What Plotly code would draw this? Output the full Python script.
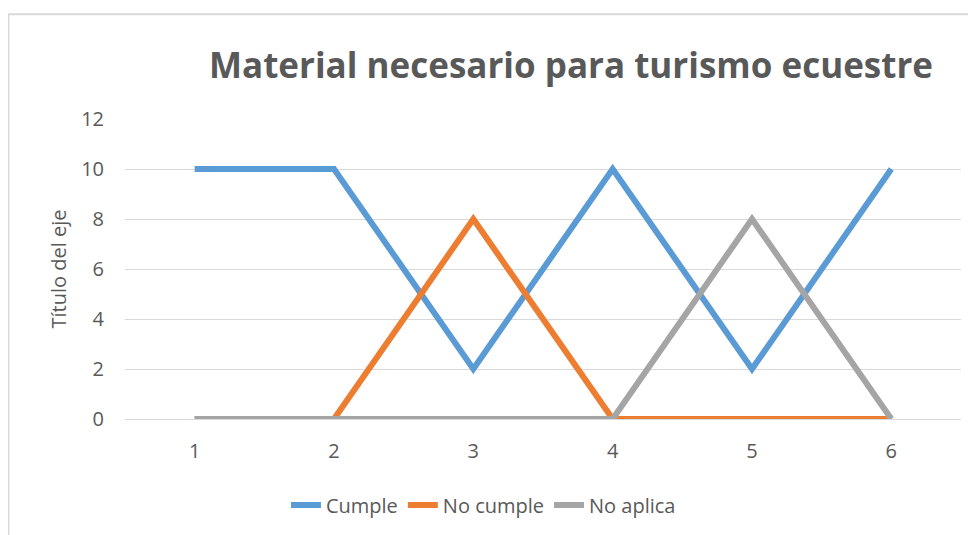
import plotly.graph_objects as go

categories = [1, 2, 3, 4, 5, 6]
cumple = [10, 10, 2, 10, 2, 10]
no_cumple = [0, 0, 8, 0, 0, 0]
no_aplica = [0, 0, 0, 0, 8, 0]
series_names = ["Cumple", "No cumple", "No aplica"]
colors = ["#5B9BD5", "#ED7D31", "#A5A5A5"]
y_ticks = [0, 2, 4, 6, 8, 10, 12]

W, H = 968, 527
L, R, T, B = 117.4, 15.4, 111, 115
PW, PH = W - L - R, H - T - B

fig = go.Figure()
for name, vals, col in zip(series_names, [cumple, no_cumple, no_aplica], colors):
    fig.add_trace(go.Scatter(
        x=[str(c) for c in categories], y=vals, mode="lines", name=name,
        line=dict(color=col, width=6)))

fig.update_layout(
    width=W, height=H,
    margin=dict(l=L, r=R, t=T, b=B),
    paper_bgcolor="white", plot_bgcolor="white",
    font=dict(family="Open Sans", color="#595959", size=20),
    title=dict(text="<b>Material necesario para turismo ecuestre</b>",
               xref="paper", x=(563 - L) / PW, xanchor="center",
               yref="container", y=1 - 58 / H, yanchor="middle",
               font=dict(family="Open Sans", size=35, color="#595959")),
    xaxis=dict(type="category", range=[-0.5, 5.5], showgrid=False, showline=False,
               zeroline=False, ticks="", tickfont=dict(size=20, color="#595959"),
               ticklabelstandoff=18),
    yaxis=dict(range=[0, 12], tickvals=y_ticks, showgrid=True, gridcolor="#D9D9D9",
               gridwidth=1.3, zeroline=True, zerolinecolor="#D9D9D9", zerolinewidth=1.3,
               showline=False, ticks="", tickfont=dict(size=20, color="#595959"),
               ticklabelstandoff=20),
    legend=dict(orientation="h", x=(475.5 - L) / PW, xanchor="center",
                y=(PH + T - 497) / PH, yanchor="middle",
                font=dict(size=20, color="#595959"), itemwidth=30, traceorder="normal"),
    annotations=[dict(text="Título del eje", xref="paper", yref="paper",
                      x=(50 - L) / PW, y=0.5, xanchor="center", yanchor="middle",
                      textangle=-90, showarrow=False,
                      font=dict(size=20, color="#595959"))],
    shapes=[dict(type="rect", xref="paper", yref="paper",
                 x0=(1 - L) / PW, x1=1.1, y0=-0.6, y1=(PH + T - 6) / PH,
                 line=dict(color="#D9D9D9", width=2), fillcolor="rgba(0,0,0,0)",
                 layer="below")],
)

fig.write_html("out.html")
